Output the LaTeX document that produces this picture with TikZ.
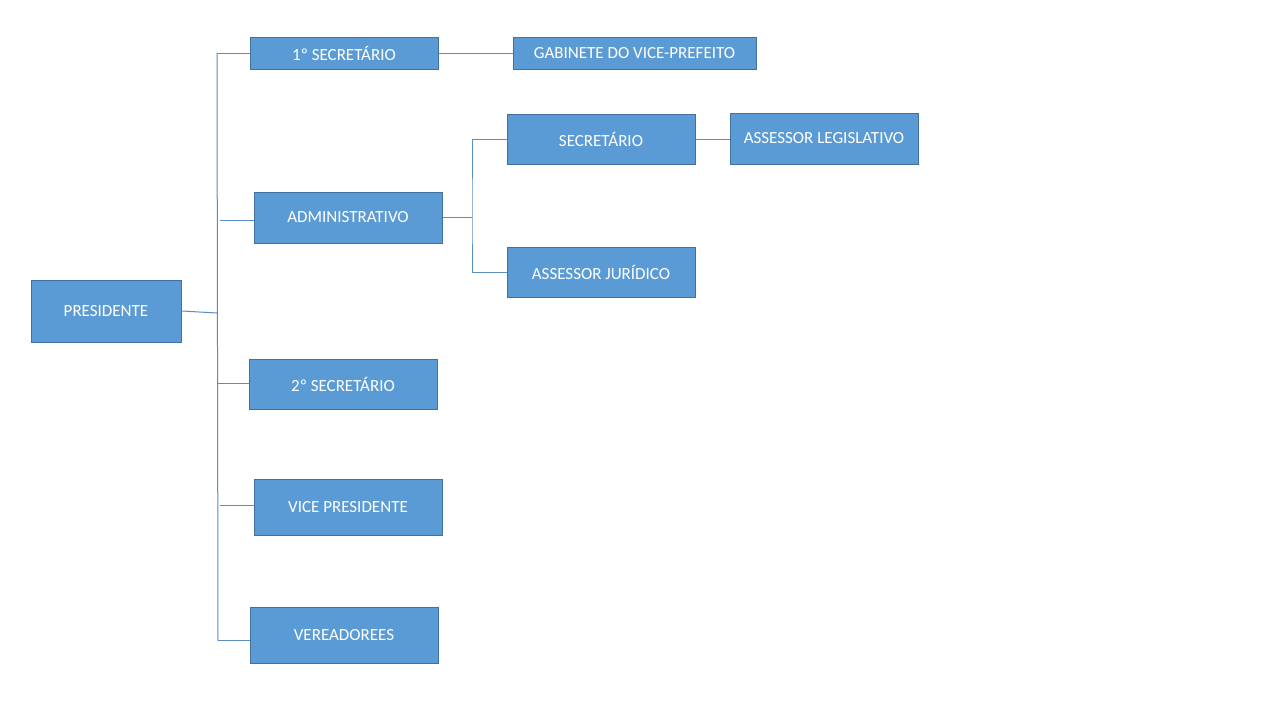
\documentclass[tikz,border=0pt]{standalone}
\usepackage{fontspec}
\setmainfont{Carlito}
\definecolor{boxfill}{HTML}{5B9BD5}
\definecolor{boxline}{HTML}{41719C}
\definecolor{conn}{HTML}{5A8FC4}
\begin{document}
\begin{tikzpicture}[x=1pt,y=-1pt,
  box/.style={draw=boxline, line width=1pt, fill=boxfill, text=white, inner sep=0pt,
    minimum width=188pt, font=\fontsize{17}{20}\selectfont},
  conn/.style={draw=conn, line width=1pt}]
\useasboundingbox[fill=white] (0,0) rectangle (1280,720);
\node[box, minimum width=150pt, minimum height=62pt] (pres) at (106,311) {PRESIDENTE};
\node[box, minimum height=32pt] (sec1) at (344,53) {1º SECRETÁRIO};
\node[box, minimum width=243pt, minimum height=32pt] (gab) at (634.5,53) {GABINETE DO VICE-PREFEITO};
\node[box, minimum height=51pt] (adm) at (348,217.5) {ADMINISTRATIVO};
\node[box, minimum height=50pt] (sec) at (601,139) {SECRETÁRIO};
\node[box, minimum height=51pt] (leg) at (824,138.5) {ASSESSOR LEGISLATIVO};
\node[box, minimum height=50pt] (jur) at (601,272) {ASSESSOR JURÍDICO};
\node[box, minimum height=50pt] (sec2) at (343,384) {2º SECRETÁRIO};
\node[box, minimum height=56pt] (vice) at (348,507) {VICE PRESIDENTE};
\node[box, minimum height=56pt] (ver) at (344,635) {VEREADOREES};
% trunk
\coordinate (ttop) at (217,53);
\coordinate (tpres) at (217,313);
\coordinate (tadm) at (220,220);
\coordinate (tsec2) at (217.5,383);
\coordinate (tvice) at (220,505);
\coordinate (tver) at (218,640);
\coordinate (tbot) at (218,641);
\draw[conn] (ttop) -- (tbot);
\draw[conn] (pres.east) -- (tpres);
\draw[conn] (ttop) -- (sec1.west);
\draw[conn] (tadm) -- (tadm -| adm.west);
\draw[conn] (tsec2) -- (tsec2 -| sec2.west);
\draw[conn] (tvice) -- (tvice -| vice.west);
\draw[conn] (tver) -- (tver -| ver.west);
\draw[conn] (sec1.east) -- (gab.west);
% administrativo branch
\coordinate (ajoin) at (472,217);
\draw[conn] (adm.east |- ajoin) -- (ajoin);
\draw[conn] (sec.west) -| (ajoin) |- (jur.west);
\draw[conn] (sec.east) -- (sec.east -| leg.west);
\end{tikzpicture}
\end{document}
